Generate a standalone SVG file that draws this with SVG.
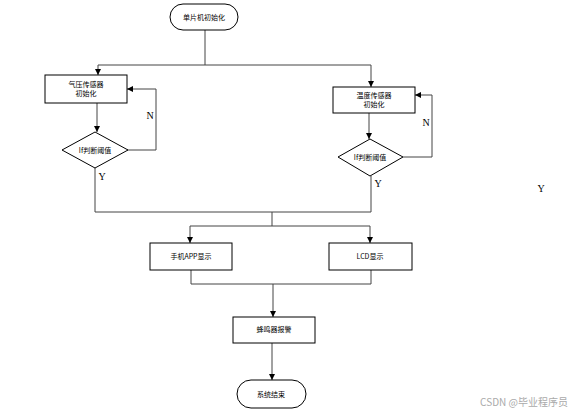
<svg xmlns="http://www.w3.org/2000/svg" width="576" height="414" viewBox="0 0 576 414">
<style>
.box{fill:#fff;stroke:#000;stroke-width:1}
.t{font-family:"Noto Sans CJK SC","Liberation Sans",sans-serif;font-size:7px;fill:#000;text-anchor:middle}
.lbl{font-family:"Liberation Serif",serif;font-size:10px;fill:#000;text-anchor:middle}
.c{fill:none;stroke:#444;stroke-width:1}
</style>
<defs>
<marker id="ah" viewBox="0 0 6 6" refX="6" refY="3" markerWidth="6" markerHeight="6" orient="auto" markerUnits="userSpaceOnUse">
<path d="M0,0 L6,3 L0,6 z" fill="#000"/>
</marker>
</defs>
<rect width="576" height="414" fill="#fff"/>
<g id="connectors">
<path class="c" d="M205,30 V65 M98,65 H371"/>
<path class="c" d="M98,65 V75" marker-end="url(#ah)"/>
<path class="c" d="M371,65 V87" marker-end="url(#ah)"/>
<path class="c" d="M97,103 V132" marker-end="url(#ah)"/>
<path class="c" d="M127,150 H156 V89 H127" marker-end="url(#ah)"/>
<path class="c" d="M369,113 V139" marker-end="url(#ah)"/>
<path class="c" d="M403,157 H432 V95 H415" marker-end="url(#ah)"/>
<path class="c" d="M95,168 V212 H371 V176"/>
<path class="c" d="M272,212 V226 M190,226 H370"/>
<path class="c" d="M190,226 V243" marker-end="url(#ah)"/>
<path class="c" d="M370,226 V243" marker-end="url(#ah)"/>
<path class="c" d="M191,270 V284 H371 V270"/>
<path class="c" d="M273,284 V317" marker-end="url(#ah)"/>
<path class="c" d="M272,343 V380" marker-end="url(#ah)"/>
<text class="lbl" x="150" y="119">N</text>
<text class="lbl" x="102" y="180">Y</text>
<text class="lbl" x="426" y="126">N</text>
<text class="lbl" x="378" y="187">Y</text>
<text class="lbl" x="541" y="192">Y</text>
</g>
<g id="start">
<rect class="box" x="170" y="4" width="68" height="26" rx="13"/>
<text class="t" x="204" y="20">单片机初始化</text>
</g>
<g id="pressure">
<rect class="box" x="45" y="75" width="82" height="28"/>
<text class="t" x="86" y="87">气压传感器</text>
<text class="t" x="86" y="96">初始化</text>
</g>
<g id="ifLeft">
<polygon class="box" points="62,150 95,132 128,150 95,168"/>
<text class="t" x="95" y="153">If判断阈值</text>
</g>
<g id="temp">
<rect class="box" x="333" y="87" width="82" height="26"/>
<text class="t" x="374" y="98">温度传感器</text>
<text class="t" x="374" y="107">初始化</text>
</g>
<g id="ifRight">
<polygon class="box" points="338,157 370,139 403,157 370,176"/>
<text class="t" x="370" y="160">If判断阈值</text>
</g>
<g id="app">
<rect class="box" x="150" y="243" width="82" height="27"/>
<text class="t" x="191" y="259">手机APP显示</text>
</g>
<g id="lcd">
<rect class="box" x="329" y="243" width="83" height="27"/>
<text class="t" x="370" y="259">LCD显示</text>
</g>
<g id="buzzer">
<rect class="box" x="233" y="317" width="82" height="26"/>
<text class="t" x="274" y="332">蜂鸣器报警</text>
</g>
<g id="end">
<rect class="box" x="237" y="380" width="69" height="28" rx="14"/>
<text class="t" x="271" y="397">系统结束</text>
</g>
<text x="568" y="406" style="font-family:'Noto Sans CJK SC','Liberation Sans',sans-serif;font-size:10px;fill:#aaa;text-anchor:end">CSDN @毕业程序员</text>
</svg>
